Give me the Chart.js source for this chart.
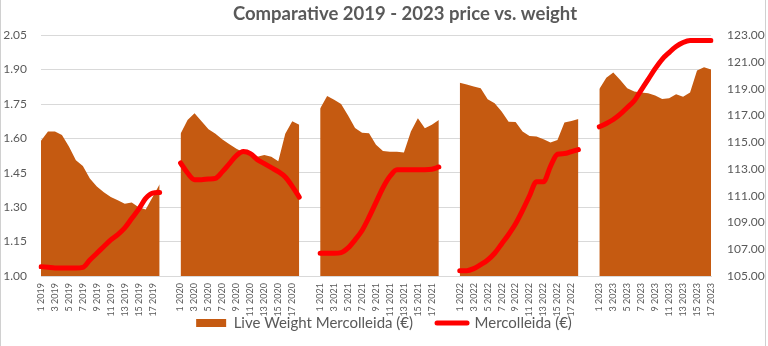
<!DOCTYPE html>
<html>
<head>
<meta charset="utf-8">
<title>Comparative 2019 - 2023 price vs. weight</title>
<script src="https://cdn.jsdelivr.net/npm/chart.js@4.4.0/dist/chart.umd.min.js"></script>
<style>
  html, body { margin: 0; padding: 0; background: #fff; }
  #wrap { position: relative; width: 768px; height: 346px; }
</style>
</head>
<body>
<div id="wrap"><canvas id="grafico"></canvas></div>
<script>
// anni e settimane mostrate
const anni = [2019, 2020, 2021, 2022, 2023]

// Live Weight Mercolleida (€) - area, asse sinistro
const weight2019 = [1.59, 1.63, 1.63, 1.615, 1.565, 1.505, 1.48, 1.425, 1.39, 1.365, 1.345, 1.33, 1.315, 1.32, 1.30, 1.29, 1.345, 1.40]
const weight2020 = [1.62, 1.68, 1.71, 1.675, 1.64, 1.62, 1.595, 1.575, 1.555, 1.54, 1.535, 1.52, 1.528, 1.52, 1.50, 1.62, 1.675, 1.66]
const weight2021 = [1.73, 1.785, 1.768, 1.75, 1.70, 1.645, 1.625, 1.622, 1.572, 1.545, 1.542, 1.542, 1.538, 1.63, 1.688, 1.644, 1.659, 1.68]
const weight2022 = [1.843, 1.835, 1.826, 1.819, 1.771, 1.753, 1.717, 1.673, 1.671, 1.63, 1.611, 1.608, 1.596, 1.582, 1.593, 1.669, 1.676, 1.685]
const weight2023 = [1.815, 1.865, 1.887, 1.855, 1.819, 1.804, 1.80, 1.797, 1.787, 1.772, 1.775, 1.793, 1.782, 1.80, 1.896, 1.91, 1.90]

// Mercolleida (€) - linea, asse destro
const price2019 = [105.7, 105.65, 105.6, 105.6, 105.6, 105.6, 105.65, 106.2, 106.7, 107.2, 107.7, 108.1, 108.6, 109.3, 110.0, 110.8, 111.2, 111.25]
const price2020 = [113.45, 112.7, 112.2, 112.2, 112.25, 112.3, 112.8, 113.4, 114.0, 114.3, 114.15, 113.7, 113.4, 113.1, 112.8, 112.4, 111.7, 110.9]
const price2021 = [106.7, 106.7, 106.7, 106.75, 107.1, 107.7, 108.4, 109.4, 110.5, 111.6, 112.45, 112.95, 112.95, 112.95, 112.95, 112.95, 112.98, 113.15]
const price2022 = [105.4, 105.4, 105.55, 105.85, 106.2, 106.7, 107.4, 108.1, 108.9, 109.9, 111.0, 112.05, 112.05, 113.2, 114.1, 114.15, 114.3, 114.45]
const price2023 = [116.15, 116.4, 116.7, 117.1, 117.6, 118.1, 118.9, 119.7, 120.5, 121.2, 121.7, 122.15, 122.45, 122.6, 122.6, 122.6, 122.6]

const weightAnni = [weight2019, weight2020, weight2021, weight2022, weight2023]
const priceAnni = [price2019, price2020, price2021, price2022, price2023]

// assi
const yMin = 1.00, yMax = 2.05, yStep = 0.15
const y1Min = 105, y1Max = 123, y1Step = 2

const coloreArea = '#C55A11'
const coloreLinea = '#FF0000'
const grigio = '#595959'

// costruisco le categorie con due vuoti tra un anno e l'altro
let etichette = []
let settimane = []
let vetWeight = []
let vetPrice = []
anni.forEach((anno, i) => {
    weightAnni[i].forEach((v, w) => {
        etichette.push((w + 1) + ' ' + anno)
        settimane.push(w + 1)
        vetWeight.push(v)
        vetPrice.push(priceAnni[i][w])
    })
    if (i < anni.length - 1) {
        for (let k = 0; k < 2; k++) {
            etichette.push('')
            settimane.push(0)
            vetWeight.push(null)
            vetPrice.push(null)
        }
    }
})

// cornice del grafico + titolo un po' spostato a destra come nell'originale
const cornice = {
    id: 'cornice',
    afterLayout(chart) {
        if (chart.titleBlock) {
            chart.titleBlock.left += 21
            chart.titleBlock.right += 21
        }
        // le etichette dell'asse x scendono fino alla legenda, non tagliarle
        chart.scales.x.bottom += 32
    },
    beforeDraw(chart) {
        let ctx = chart.ctx
        ctx.save()
        ctx.strokeStyle = '#D0D0D0'
        ctx.lineWidth = 1
        ctx.beginPath()
        ctx.moveTo(0.5, 0)
        ctx.lineTo(0.5, chart.height)
        ctx.moveTo(chart.width - 2.5, 0)
        ctx.lineTo(chart.width - 2.5, chart.height)
        ctx.stroke()
        ctx.restore()
    }
}

Chart.defaults.font.family = 'Lato'
Chart.defaults.color = grigio

let grafico = new Chart(document.getElementById('grafico'), {
    type: 'line',
    data: {
        labels: etichette,
        datasets: [{
            label: 'Live Weight Mercolleida (€)',
            data: vetWeight,
            yAxisID: 'y',
            backgroundColor: coloreArea,
            borderColor: coloreArea,
            borderWidth: 0,
            fill: 'start',
            pointRadius: 0,
            tension: 0,
            spanGaps: false,
            order: 2
        }, {
            label: 'Mercolleida (€)',
            data: vetPrice,
            yAxisID: 'y1',
            borderColor: coloreLinea,
            backgroundColor: coloreLinea,
            borderWidth: 5,
            borderCapStyle: 'round',
            borderJoinStyle: 'round',
            fill: false,
            pointRadius: 0,
            cubicInterpolationMode: 'monotone',
            spanGaps: false,
            order: 1
        }]
    },
    options: {
        responsive: true,
        maintainAspectRatio: false,
        animation: false,
        layout: { padding: { top: 1, bottom: 5.5, left: 0, right: 0 } },
        plugins: {
            title: {
                display: true,
                text: 'Comparative 2019 - 2023 price vs. weight',
                color: grigio,
                font: { family: 'Lato', size: 18.5, weight: 'bold' },
                padding: { top: 2, bottom: 10 }
            },
            legend: {
                position: 'bottom',
                labels: {
                    usePointStyle: true,
                    pointStyleWidth: 30,
                    boxHeight: 8,
                    padding: 24,
                    color: grigio,
                    font: { size: 15 },
                    generateLabels: chart => chart.data.datasets.map((ds, i) => ({
                        text: ds.label,
                        fillStyle: ds.backgroundColor,
                        strokeStyle: ds.borderColor,
                        lineWidth: i === 0 ? 0 : 5,
                        lineCap: 'round',
                        pointStyle: i === 0 ? 'rect' : 'line',
                        fontColor: grigio,
                        hidden: false,
                        datasetIndex: i
                    }))
                }
            },
            tooltip: { enabled: false }
        },
        scales: {
            x: {
                grid: { display: false, drawTicks: false },
                border: { color: '#D9D9D9' },
                ticks: {
                    autoSkip: false,
                    minRotation: 90,
                    maxRotation: 90,
                    padding: 7,
                    color: grigio,
                    font: { size: 9 },
                    callback: function (val, idx) {
                        return settimane[idx] % 2 === 1 ? etichette[idx] : ''
                    }
                },
                afterFit: s => { s.height = 15.5 }
            },
            y: {
                position: 'left',
                min: yMin,
                max: yMax,
                grid: { color: '#D9D9D9', drawTicks: false },
                border: { display: false },
                ticks: {
                    stepSize: yStep,
                    padding: 14,
                    color: grigio,
                    font: { size: 12 },
                    callback: v => v.toFixed(2)
                },
                afterFit: s => { s.width = 41 }
            },
            y1: {
                position: 'right',
                min: y1Min,
                max: y1Max,
                grid: { display: false, drawTicks: false },
                border: { display: false },
                ticks: {
                    stepSize: y1Step,
                    padding: 16,
                    color: grigio,
                    font: { size: 12 },
                    callback: v => v.toFixed(2)
                },
                afterFit: s => { s.width = 57 }
            }
        }
    },
    plugins: [cornice]
})
</script>
</body>
</html>
